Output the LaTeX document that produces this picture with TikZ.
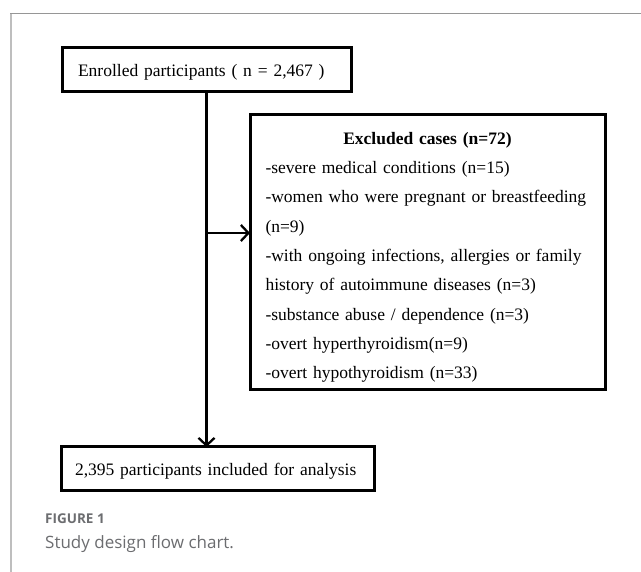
\documentclass[tikz,border=0pt]{standalone}
\usepackage{fontspec}
\setmainfont{Liberation Serif}
\newfontfamily\capfont{Open Sans}
\usetikzlibrary{arrows.meta}
\definecolor{captiongray}{RGB}{108,109,112}
\definecolor{framegray}{RGB}{150,150,150}
\definecolor{framelight}{RGB}{190,190,190}
\begin{document}
\begin{tikzpicture}[x=1pt,y=-1pt,
  box/.style={draw=black, line width=3pt, inner ysep=0pt, outer sep=0pt,
    font=\fontsize{17.5}{29.3}\selectfont, align=left, anchor=north west},
  conn/.style={line width=2.3pt, -{Straight Barb[length=7.5pt,width=16pt,line width=2.3pt]}},
  captxt/.style={anchor=base west, inner sep=0pt, text=captiongray}]
\useasboundingbox (0,0) rectangle (641,572);
\fill[white] (0,0) rectangle (641,572);
% frame
\draw[framelight, line width=1.2pt] (11,572) -- (11,13.5);
\draw[framegray, line width=1.4pt] (10.4,13.5) -- (641,13.5);
% nodes
\node[box, text width=257pt, inner xsep=16pt, text height=29pt, text depth=15pt]
  (enrolled) at (62,48) {\mbox{Enrolled participants ( n = 2,467 )}};
\node[box, text width=324pt, inner xsep=15.5pt, text height=29.3pt, text depth=245.7pt]
  (excluded) at (250,115) {\makebox[324pt][c]{\textbf{Excluded cases (n=72)}}\\
  \mbox{-severe medical conditions (n=15)}\\
  \makebox[324pt][s]{-women who were pregnant or breastfeeding}\\
  (n=9)\\
  \makebox[324pt][s]{-with ongoing infections, allergies or family}\\
  \mbox{history of autoimmune diseases (n=3)}\\
  \mbox{-substance abuse / dependence (n=3)}\\
  \mbox{-overt hyperthyroidism(n=9)}\\
  \mbox{-overt hypothyroidism (n=33)}};
\node[box, text width=285pt, inner xsep=14pt, text height=29pt, text depth=15pt]
  (included) at (61,447) {\mbox{2,395 participants included for analysis}};
% connectors
\draw[conn] (enrolled.south) -- (enrolled.south |- included.north);
\coordinate (lvl) at (0,233);
\coordinate (branch) at (enrolled.south |- lvl);
\draw[conn] (branch) -- (branch -| excluded.west);
% caption
\node[captxt, font=\capfont\bfseries\fontsize{13.5}{16}\selectfont] (fig) at (45,523) {FIGURE 1};
\node[captxt, font=\capfont\fontsize{17}{20}\selectfont] (cap) at (45,548) {Study design flow chart.};
\end{tikzpicture}
\end{document}
